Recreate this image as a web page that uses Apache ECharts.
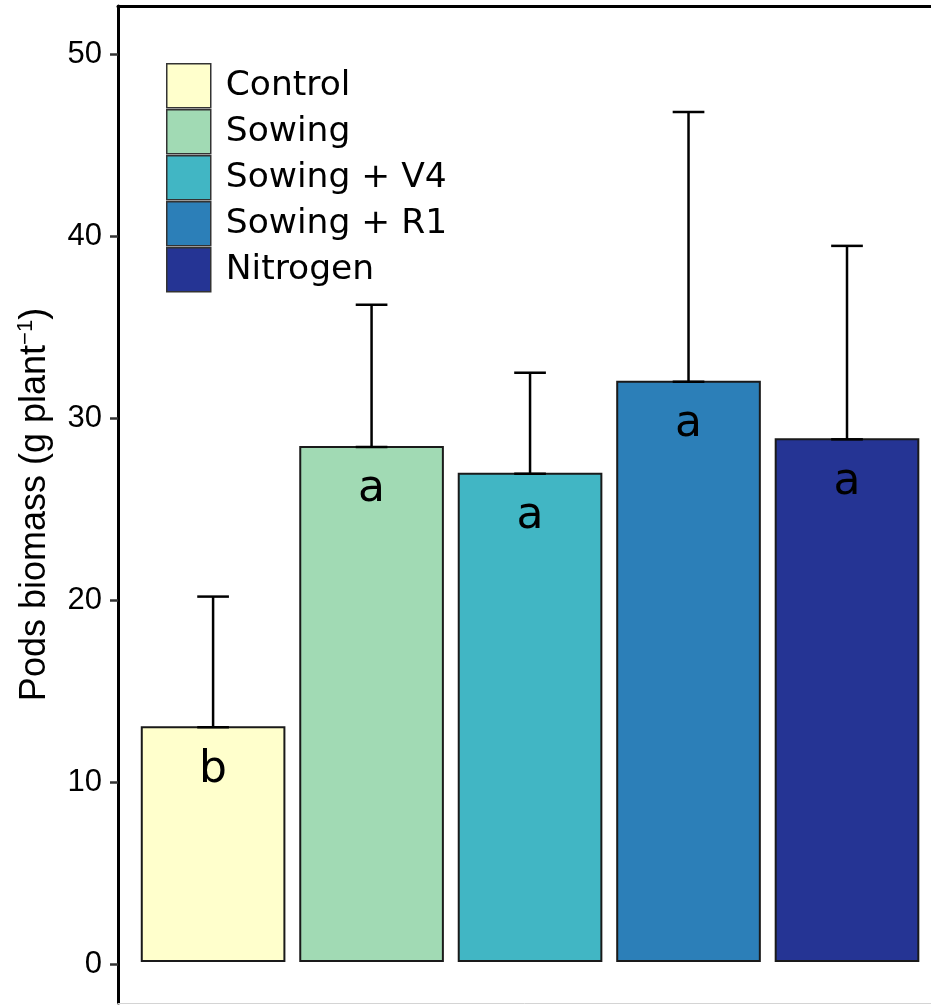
<!DOCTYPE html>
<html>
<head>
    <meta charset="utf-8" />
    <title>Pods biomass</title>
    <script src="https://cdn.jsdelivr.net/npm/echarts@6/dist/echarts.min.js"></script>
    <style>
        html, body { margin: 0; padding: 0; background: #fff; }
        #main { width: 931px; height: 1005px; }
    </style>
</head>
<body>
    <div id="main"></div>
    <script>
        // data
        var treatments = ['Control', 'Sowing', 'Sowing + V4', 'Sowing + R1', 'Nitrogen'];
        var means = [13.02, 28.42, 26.95, 32.0, 28.84];
        var upper = [20.2, 36.23, 32.5, 46.83, 39.47];
        var letters = ['b', 'a', 'a', 'a', 'a'];
        var yTicks = [0, 10, 20, 30, 40, 50];

        var colors = ['#FFFFCC', '#A1DAB4', '#41B6C4', '#2C7FB8', '#253494'];
        var barBase = 0.18;   // bars sit a hair above zero in the original
        var halfWidth = 0.45;

        function makeRender(letter, color) {
            return function (params, api) {
                var x = api.value(0), m = api.value(1), u = api.value(2);
                var p0 = api.coord([x - halfWidth, barBase]);
                var p1 = api.coord([x + halfWidth, m]);
                var c = api.coord([x, m]);
                var e = api.coord([x, u]);
                var capHalf = api.size([0.1, 0])[0];
                var lineStyle = { stroke: '#000', lineWidth: 2.5 };
                return {
                    type: 'group',
                    children: [
                        {
                            type: 'rect',
                            shape: { x: p0[0], y: p1[1], width: p1[0] - p0[0], height: p0[1] - p1[1] },
                            style: { fill: color, stroke: '#1a1a1a', lineWidth: 2 }
                        },
                        { type: 'line', shape: { x1: c[0], y1: c[1], x2: e[0], y2: e[1] }, style: lineStyle },
                        { type: 'line', shape: { x1: e[0] - capHalf, y1: e[1], x2: e[0] + capHalf, y2: e[1] }, style: lineStyle },
                        { type: 'line', shape: { x1: c[0] - capHalf, y1: c[1], x2: c[0] + capHalf, y2: c[1] }, style: lineStyle },
                        {
                            type: 'text',
                            style: {
                                text: letter, x: c[0], y: c[1] + 43,
                                align: 'center', verticalAlign: 'middle',
                                fontFamily: 'DejaVu Sans', fontSize: 44, fill: '#000'
                            }
                        }
                    ]
                };
            };
        }

        var series = treatments.map(function (name, i) {
            return {
                name: name,
                type: 'custom',
                clip: false,
                itemStyle: { color: colors[i] },
                renderItem: makeRender(letters[i], colors[i]),
                data: [[i + 1, means[i], upper[i]]]
            };
        });

        var chart = echarts.init(document.getElementById('main'));
        chart.setOption({
            animation: false,
            backgroundColor: '#fff',
            // the panel runs past the right edge of the picture, so the x range stops short of 5.6
            grid: { left: 118, top: 6, right: 0, bottom: 2 },
            legend: {
                orient: 'vertical',
                left: 161,
                top: 58,
                icon: 'rect',
                itemWidth: 44,
                itemHeight: 44,
                itemGap: 0.5,
                itemStyle: { borderColor: '#333', borderWidth: 1.5 },
                textStyle: { fontFamily: 'DejaVu Sans', fontSize: 34.5, color: '#000', padding: [0, 0, 0, 10] },
                data: treatments
            },
            xAxis: [
                {
                    type: 'value', min: 0.4, max: 5.53, position: 'bottom',
                    axisLine: { show: true, onZero: false, lineStyle: { color: '#d4d4d4', width: 1 } },
                    axisTick: { show: false }, axisLabel: { show: false }, splitLine: { show: false }
                },
                {
                    type: 'value', min: 0.4, max: 5.53, position: 'top',
                    axisLine: { show: true, onZero: false, lineStyle: { color: '#000', width: 3 } },
                    axisTick: { show: false }, axisLabel: { show: false }, splitLine: { show: false }
                }
            ],
            yAxis: {
                type: 'value',
                min: -2.13,
                max: 52.65,
                name: '{a|Pods biomass (g plant}{s|\u22121}{a|)}',
                nameLocation: 'middle',
                nameRotate: 90,
                nameGap: 62,
                nameTextStyle: {
                    rich: {
                        a: { fontFamily: 'Liberation Sans', fontSize: 36, color: '#000', lineHeight: 41 },
                        s: { fontFamily: 'Liberation Sans', fontSize: 22, color: '#000', lineHeight: 22, verticalAlign: 'top' }
                    }
                },
                axisLine: { show: true, onZero: false, lineStyle: { color: '#000', width: 3 } },
                axisTick: { show: true, length: 8, customValues: yTicks, lineStyle: { color: '#333', width: 2.5 } },
                axisLabel: { customValues: yTicks, margin: 16, fontFamily: 'Liberation Sans', fontSize: 31, color: '#000' },
                splitLine: { show: false }
            },
            series: series
        });
    </script>
</body>
</html>
